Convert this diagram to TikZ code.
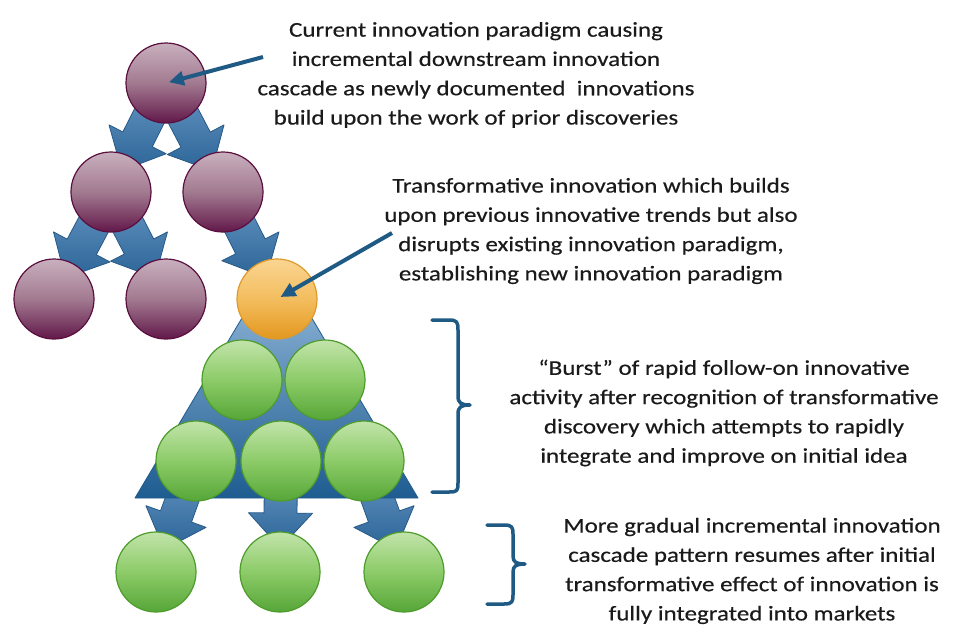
\documentclass[tikz,border=0pt]{standalone}
\usepackage{fontspec}
\setmainfont{Carlito}[FakeStretch=1.19,FakeBold=0.35]
\usetikzlibrary{calc,arrows.meta}
\definecolor{purTop}{HTML}{C9B0BE}
\definecolor{purMid}{HTML}{A27A90}
\definecolor{purBot}{HTML}{62184A}
\definecolor{purLine}{HTML}{5A0F3E}
\definecolor{orTop}{HTML}{FAD592}
\definecolor{orMid}{HTML}{F3BD5E}
\definecolor{orBot}{HTML}{E3981F}
\definecolor{orLine}{HTML}{E09A2A}
\definecolor{grTop}{HTML}{C2E4AA}
\definecolor{grMid}{HTML}{8CCB68}
\definecolor{grBot}{HTML}{56A638}
\definecolor{grLine}{HTML}{4E9C2C}
\definecolor{arTop}{HTML}{6D9BC8}
\definecolor{arBot}{HTML}{2B6597}
\definecolor{arLine}{HTML}{275A88}
\definecolor{triTop}{HTML}{A0C2E2}
\definecolor{triBot}{HTML}{1E5C90}
\definecolor{ptr}{HTML}{1F5A85}
\definecolor{txt}{HTML}{1A1A1A}
\newcommand\blockarr[2]{%
  \coordinate (bS) at (#1.center);
  \coordinate (bT) at ($(#2.center)!24pt!(#1.center)$);
  \coordinate (bH) at ($(#2.center)!59pt!(#1.center)$);
  \path[blockarrow] ($(bS)!16.5pt!90:(bT)$) -- ($(bH)!16.5pt!90:(bT)$) -- ($(bH)!32pt!90:(bT)$)
    -- (bT) -- ($(bH)!32pt!-90:(bT)$) -- ($(bH)!16.5pt!-90:(bT)$) -- ($(bS)!16.5pt!-90:(bT)$) -- cycle;
}
\begin{document}
\begin{tikzpicture}[x=1pt,y=-1pt,
  ball/.style={circle,minimum size=80pt,inner sep=0pt,line width=1.2pt},
  purple ball/.style={ball,draw=purLine,top color=purTop,bottom color=purBot,middle color=purMid},
  orange ball/.style={ball,draw=orLine,top color=orTop,bottom color=orBot,middle color=orMid},
  green ball/.style={ball,draw=grLine,top color=grTop,bottom color=grBot,middle color=grMid},
  blockarrow/.style={draw=arLine,line width=0.8pt,line join=round,top color=arTop,bottom color=arBot},
  tri/.style={draw=triBot,line width=0.8pt,line join=round,top color=triTop,bottom color=triBot},
  pointer/.style={draw=ptr,line width=4pt,-{Triangle[length=15pt,width=14pt]}},
  bracket/.style={draw=ptr,line width=3.5pt,line cap=round,line join=round},
  label/.style={align=center,text=txt,font=\fontsize{21}{29.3}\selectfont,inner sep=0pt}]
\useasboundingbox[fill=white] (0,0) rectangle (954,625);

\path
  (166,83)  coordinate (cTop)
  (111,192) coordinate (cL2)
  (223,192) coordinate (cR2)
  (54,299)  coordinate (cL3)
  (166,299) coordinate (cM3)
  (277,299) coordinate (cOr)
  (242,380) coordinate (cG1)
  (325,380) coordinate (cG2)
  (196,461) coordinate (cG3)
  (281,461) coordinate (cG4)
  (364,461) coordinate (cG5)
  (156,572) coordinate (cB1)
  (280,572) coordinate (cB2)
  (404,572) coordinate (cB3);

% cascade arrows (behind circles)
\blockarr{cTop}{cL2}
\blockarr{cTop}{cR2}
\blockarr{cL2}{cL3}
\blockarr{cL2}{cM3}
\blockarr{cR2}{cOr}
\blockarr{cG3}{cB1}
\blockarr{cG4}{cB2}
\blockarr{cG5}{cB3}

% triangle
\path[tri] (277,259) -- (418,498) -- (135,498) -- cycle;

% circles
\node[purple ball] (top) at (cTop) {};
\node[purple ball] (l2) at (cL2) {};
\node[purple ball] (r2) at (cR2) {};
\node[purple ball] (l3) at (cL3) {};
\node[purple ball] (m3) at (cM3) {};
\node[green ball] (g1) at (cG1) {};
\node[green ball] (g2) at (cG2) {};
\node[green ball] (g3) at (cG3) {};
\node[green ball] (g4) at (cG4) {};
\node[green ball] (g5) at (cG5) {};
\node[green ball] (b1) at (cB1) {};
\node[green ball] (b2) at (cB2) {};
\node[green ball] (b3) at (cB3) {};
\node[orange ball] (orange) at (cOr) {};

% texts
\node[label] (t1) at (476,75) {Current innovation paradigm causing\\incremental downstream innovation\\cascade as newly documented~ innovations\\build upon the work of prior discoveries};
\node[label] (t2) at (591,231) {Transformative innovation which builds\\upon previous innovative trends but also\\disrupts existing innovation paradigm,\\establishing new innovation paradigm};
\node[label] (t3) at (724,413) {“Burst” of rapid follow-on innovative\\activity after recognition of transformative\\discovery which attempts to rapidly\\integrate and improve on initial idea};
\node[label] (t4) at (752,571) {More gradual incremental innovation\\cascade pattern resumes after initial\\transformative effect of innovation is\\fully integrated into markets};

% pointers
\coordinate (p1) at (263,57);
\coordinate (p2) at (392,233);
\draw[pointer] (p1) -- ($(top.center)!3pt!(p1)$);
\draw[pointer] (p2) -- ($(orange.center)!4pt!(p2)$);

% brackets
\draw[bracket] (432,320) -- (449,320) .. controls (457,320) and (458,322) .. (458,330)
  -- (458,396) .. controls (458,403) and (461,405) .. (470,405)
  .. controls (461,405) and (458,407) .. (458,414)
  -- (458,483) .. controls (458,491) and (457,492) .. (449,492) -- (432,492);
\draw[bracket] (487,525) -- (504,525) .. controls (512,525) and (513,527) .. (513,534)
  -- (513,556) .. controls (513,562) and (516,564) .. (525,564)
  .. controls (516,564) and (513,566) .. (513,572)
  -- (513,595) .. controls (513,602) and (512,604) .. (504,604) -- (487,604);
\end{tikzpicture}
\end{document}
